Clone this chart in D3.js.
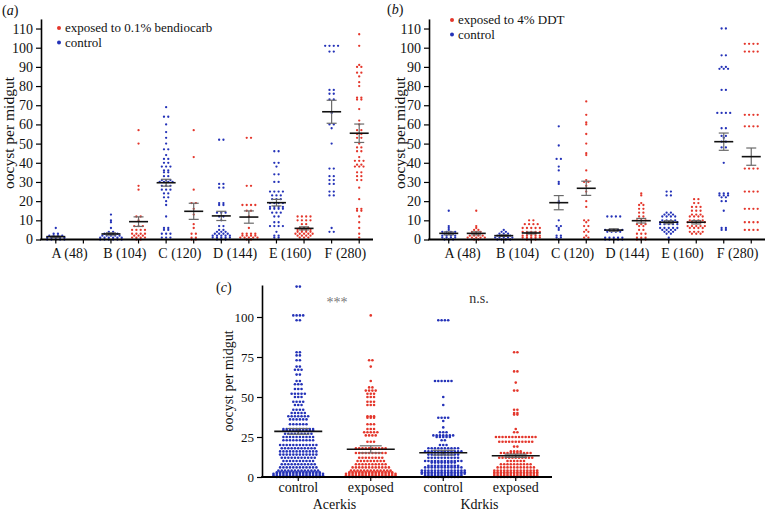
<!DOCTYPE html>
<html><head><meta charset="utf-8">
<script src="https://cdn.jsdelivr.net/npm/d3@7"></script>
<style>
body{margin:0;background:#fff;}
svg{display:block;font-family:"Liberation Serif","Times New Roman",serif;}
</style></head><body>
<svg id="chart" width="767" height="514"></svg>
<script>
// ---------------- DATA (rows of [oocyst value, number of midguts]) ----------------
const strainsAB = ["A (48)","B (104)","C (120)","D (144)","E (160)","F (280)"];
const yTicksAB = [0,10,20,30,40,50,60,70,80,90,100,110];

// panel (a): bendiocarb
const aControl = [
  [[6,1],[3,2],[2,4],[1,5],[0,5]],
  [[13,1],[10,1],[9,1],[6,1],[4,2],[3,4],[2,5],[1,6],[0,6]],
  [[69,1],[64,2],[60,1],[56,1],[53,1],[50,1],[47,2],[44,1],[42,2],[40,2],[38,3],[36,2],[35,2],[33,2],[31,3],[30,4],[28,3],[26,3],[24,2],[22,2],[20,1],[18,1],[12,1],[6,2],[5,2],[3,3],[1,3]],
  [[52,2],[29,2],[27,2],[19,2],[18,2],[14,3],[12,2],[10,1],[7,2],[5,2],[4,3],[3,4],[2,5],[1,5],[0,3]],
  [[46,2],[40,2],[38,1],[34,2],[30,2],[25,4],[23,3],[21,3],[19,4],[17,4],[16,4],[14,3],[12,2],[9,2],[7,4],[4,1],[2,2],[1,2]],
  [[101,4],[98,2],[78,2],[76,2],[73,2],[66,1],[60,2],[58,1],[50,1],[37,2],[33,2],[31,2],[29,2],[25,2],[23,2],[6,1],[4,2]]
];
const aExposed = [
  [],
  [[57,1],[50,1],[28,1],[26,1],[12,2],[10,1],[7,3],[5,4],[3,4],[2,3],[1,4],[0,2]],
  [[57,1],[43,1],[26,1],[19,2],[16,1],[13,1],[8,1],[6,1],[3,2],[1,2],[0,2]],
  [[53,2],[28,2],[18,4],[15,2],[12,1],[6,1],[3,4],[2,4],[1,5],[0,2]],
  [[12,4],[10,4],[8,2],[6,3],[5,4],[4,4],[3,5],[2,4],[1,3]],
  [[107,1],[101,1],[91,1],[90,2],[87,2],[85,1],[82,1],[80,1],[74,2],[73,2],[68,1],[62,1],[60,1],[57,2],[55,2],[53,2],[50,1],[48,2],[46,2],[43,1],[41,3],[39,2],[38,3],[35,2],[33,2],[31,2],[27,1],[21,1],[16,2],[15,2],[12,1],[9,1],[6,1],[3,1],[1,1]]
];
const aMeanControl = [1.5, 2.9, 29.6, 12.3, 19.2, 66.6];
const aSemControl  = [0.3, 0.6, 1.8, 2.4, 1.7, 6.0];
const aMeanExposed = [null, 9.3, 14.7, 11.7, 5.8, 55.4];
const aSemExposed  = [null, 2.5, 4.2, 3.2, 0.8, 4.8];

// panel (b): DDT
const bControl = [
  [[15,1],[7,1],[6,1],[5,1],[4,4],[3,3],[2,4],[1,4],[0,3]],
  [[5,1],[4,2],[3,3],[2,4],[1,5],[0,4]],
  [[59,1],[49,1],[42,2],[38,1],[36,1],[30,1],[29,1],[20,1],[19,1],[10,1],[7,2],[6,1],[5,1],[2,2],[1,2],[0,1]],
  [[12,4],[5,5],[4,4],[1,5],[0,5]],
  [[25,2],[23,2],[14,2],[13,3],[12,4],[10,4],[9,5],[8,5],[6,5],[5,4],[4,3],[3,2],[1,1],[0,1]],
  [[110,2],[96,2],[90,2],[89,3],[78,2],[66,4],[58,2],[54,2],[53,1],[51,2],[48,2],[40,1],[24,3],[23,3],[22,2],[20,2],[15,1],[6,2],[5,2]]
];
const bExposed = [
  [[15,1],[7,1],[6,1],[5,2],[4,3],[3,2],[2,4],[1,5],[0,2]],
  [[10,2],[8,4],[6,5],[4,5],[3,3],[2,5],[1,5],[0,3]],
  [[72,1],[65,1],[61,1],[60,1],[55,1],[50,1],[45,1],[44,1],[36,1],[31,1],[30,2],[28,1],[25,1],[20,1],[17,1],[10,2],[9,1],[7,2],[5,1],[4,2],[2,1],[1,2]],
  [[24,1],[23,1],[19,1],[18,2],[16,2],[14,2],[12,2],[10,3],[8,3],[7,2],[5,2],[3,3],[1,3],[0,3]],
  [[21,2],[19,2],[17,3],[15,3],[13,3],[12,4],[10,4],[9,5],[7,5],[6,4],[4,4],[3,3]],
  [[102,4],[98,4],[65,4],[59,4],[37,4],[25,4],[16,4],[9,4],[5,4]]
];
const bMeanControl = [3.2, 2.0, 19.2, 4.9, 9.0, 51.0];
const bSemControl  = [0.8, 0.4, 3.7, 0.7, 0.8, 4.5];
const bMeanExposed = [3.2, 3.4, 26.7, 9.8, 9.0, 43.2];
const bSemExposed  = [0.8, 0.5, 3.7, 1.2, 0.9, 4.5];

// panel (c): pooled by genotype
const genotypesC = ["Acerkis","Kdrkis"];
const yTicksC = [0,25,50,75,100];
const acerControl = [[119,2],[101,4],[98,2],[78,2],[76,2],[73,2],[69,2],[67,3],[64,2],[60,2],[58,3],[55,3],[52,5],[50,3],[47,4],[45,3],[42,4],[40,5],[38,7],[36,6],[33,6],[30,10],[29,10],[27,9],[25,10],[23,10],[20,12],[18,11],[16,12],[14,12],[12,11],[10,10],[8,11],[6,12],[4,13],[3,14],[2,16],[1,16],[0,14]];
const acerExposed = [[101,1],[73,2],[69,1],[60,1],[56,2],[54,4],[52,3],[50,3],[47,3],[45,3],[38,3],[37,3],[33,3],[30,3],[28,5],[26,4],[22,3],[18,10],[15,10],[12,8],[10,9],[8,10],[6,12],[4,13],[3,14],[2,16],[1,16],[0,14]];
const kdrControl = [[98,4],[60,6],[50,1],[45,1],[37,4],[35,1],[31,1],[28,3],[26,7],[25,5],[23,2],[20,3],[18,10],[16,12],[14,10],[12,10],[10,12],[9,8],[7,10],[6,12],[4,14],[3,14],[2,14],[1,12],[0,10]];
const kdrExposed = [[78,2],[66,2],[59,1],[54,2],[42,2],[40,2],[39,2],[30,1],[28,2],[25,13],[22,11],[19,2],[16,4],[15,10],[12,11],[10,6],[8,10],[6,12],[4,14],[3,14],[2,14],[1,14],[0,12]];
const cMean = [28.5, 17.3, 15.2, 13.3];
const cSem  = [1.8, 2.2, 1.5, 1.0];

// ---------------- DRAWING ----------------
const BLUE = "#2432b8", RED = "#e4362b";
const svg = d3.select("#chart");

function rowDots(rows, cx, y, spacing, maxPerRow, lift){
  const pts = [];
  rows.forEach(([v,n]) => {
    let rem = n, k = 0;
    while (rem > 0){
      const m = Math.min(rem, maxPerRow);
      for (let i = 0; i < m; i++) pts.push({x: cx + (i-(m-1)/2)*spacing, y: y(v) - k*lift});
      rem -= m; k++;
    }
  });
  return pts;
}

function panel(o){
  const g = svg.append("g");
  const y = d3.scaleLinear().domain([0, o.yMax]).range([o.y0, o.y0 - o.yMax*o.ppu]);
  const keys = [];
  o.cats.forEach(c => o.series.forEach(s => keys.push(c + "|" + s.name)));
  const x = d3.scaleBand().domain(keys).range(o.xRange);
  const bw = x.bandwidth();

  // dots, means, error bars
  o.cats.forEach((c, i) => {
    o.series.forEach(s => {
      const cx = x(c + "|" + s.name) + bw/2;
      const rows = s.rows[i];
      g.append("g").selectAll("circle")
        .data(rowDots(rows, cx, y, o.spacing, o.maxPerRow, o.lift))
        .join("circle")
        .attr("cx", d => d.x).attr("cy", d => d.y).attr("r", o.r)
        .attr("fill", s.color);
      const m = s.mean[i], e = s.sem[i];
      if (m != null){
        const eg = g.append("g").attr("stroke", "#6a6a6a").attr("stroke-width", 1.2);
        eg.append("line").attr("x1", cx).attr("x2", cx).attr("y1", y(m-e)).attr("y2", y(m+e));
        [m-e, m+e].forEach(v => eg.append("line")
          .attr("x1", cx - o.capW/2).attr("x2", cx + o.capW/2).attr("y1", y(v)).attr("y2", y(v)));
        g.append("line").attr("x1", cx - o.meanW/2).attr("x2", cx + o.meanW/2)
          .attr("y1", y(m)).attr("y2", y(m)).attr("stroke", "#111").attr("stroke-width", 1.6);
      }
    });
  });

  // y axis
  const ya = g.append("g").attr("transform", `translate(${o.axisX},0)`)
    .call(d3.axisLeft(y).tickValues(o.yTicks).tickSize(5).tickSizeOuter(0).tickPadding(3));
  ya.select(".domain").attr("stroke", "#000").attr("stroke-width", 1.6);
  ya.selectAll(".tick line").attr("stroke", "#000").attr("stroke-width", 1.2);
  ya.selectAll(".tick text").attr("font-size", o.tickFont).attr("fill", "#111")
    .attr("font-family", '"Liberation Serif","Times New Roman",serif');

  // x axis
  const xa = g.append("g").attr("transform", `translate(0,${o.y0})`)
    .call(d3.axisBottom(x).tickSize(4).tickFormat(""));
  xa.select(".domain").remove();
  xa.selectAll(".tick line").attr("stroke", "#000").attr("stroke-width", 1.2);
  g.append("line").attr("x1", o.axisX - 0.8).attr("x2", o.xEnd).attr("y1", o.y0).attr("y2", o.y0)
    .attr("stroke", "#000").attr("stroke-width", 2);

  // category labels
  o.cats.forEach(c => {
    const cxs = o.series.map(s => x(c + "|" + s.name) + bw/2);
    g.append("text").attr("x", d3.mean(cxs)).attr("y", o.catY)
      .attr("text-anchor", "middle").attr("font-size", 14).attr("fill", "#111").text(c);
  });
  if (o.slotLabels){
    keys.forEach(k => {
      g.append("text").attr("x", x(k) + bw/2).attr("y", o.slotY)
        .attr("text-anchor", "middle").attr("font-size", 14).attr("fill", "#111").text(k.split("|")[1]);
    });
  }

  // y title
  g.append("text").attr("transform", `translate(${o.titleX},${o.titleY}) rotate(-90)`)
    .attr("text-anchor", "middle").attr("font-size", o.titleFont).attr("fill", "#111")
    .text("oocyst per midgut");

  // panel letter
  const pl = g.append("text").attr("x", o.letterX).attr("y", o.letterY).attr("font-size", 14).attr("fill", "#111");
  pl.append("tspan").text("(");
  pl.append("tspan").attr("font-style", "italic").text(o.letter);
  pl.append("tspan").text(")");

  // legend
  if (o.legend){
    o.legend.forEach((l, i) => {
      const ly = o.legendY + i*o.legendGap;
      g.append("circle").attr("cx", o.legendX).attr("cy", ly - 4).attr("r", 2).attr("fill", l.color);
      g.append("text").attr("x", o.legendX + 6).attr("y", ly).attr("font-size", o.legendFont).attr("fill", "#111").text(l.text);
    });
  }
  return {g, x, y};
}

// (a)
panel({
  cats: strainsAB,
  series: [
    {name:"control", color:BLUE, rows:aControl, mean:aMeanControl, sem:aSemControl},
    {name:"exposed", color:RED, rows:aExposed, mean:aMeanExposed, sem:aSemExposed}
  ],
  yMax:115, y0:239.5, ppu:1.918, yTicks:yTicksAB, tickFont:14,
  xRange:[42,373], axisX:41, xEnd:373, catY:258,
  spacing:4.3, maxPerRow:8, lift:2, r:1.15, meanW:19, capW:10,
  titleX:14, titleY:133, titleFont:15.5,
  letter:"a", letterX:2, letterY:15,
  legend:[{color:RED, text:"exposed to 0.1% bendiocarb"},{color:BLUE, text:"control"}],
  legendX:59, legendY:32, legendGap:14.6, legendFont:13
});

// (b)
panel({
  cats: strainsAB,
  series: [
    {name:"control", color:BLUE, rows:bControl, mean:bMeanControl, sem:bSemControl},
    {name:"exposed", color:RED, rows:bExposed, mean:bMeanExposed, sem:bSemExposed}
  ],
  yMax:115, y0:239.5, ppu:1.918, yTicks:yTicksAB, tickFont:14,
  xRange:[435,765], axisX:429, xEnd:765, catY:258,
  spacing:4.3, maxPerRow:8, lift:2, r:1.15, meanW:19, capW:10,
  titleX:405, titleY:133, titleFont:15.5,
  letter:"b", letterX:387, letterY:14,
  legend:[{color:RED, text:"exposed to 4% DDT"},{color:BLUE, text:"control"}],
  legendX:452, legendY:24, legendGap:14.6, legendFont:13
});

// (c)
const pc = panel({
  cats: genotypesC,
  series: [
    {name:"control", color:BLUE, rows:[acerControl, kdrControl], mean:[cMean[0], cMean[2]], sem:[cSem[0], cSem[2]]},
    {name:"exposed", color:RED, rows:[acerExposed, kdrExposed], mean:[cMean[1], cMean[3]], sem:[cSem[1], cSem[3]]}
  ],
  yMax:120, y0:477, ppu:1.6, yTicks:yTicksC, tickFont:13,
  xRange:[262,552], axisX:262, xEnd:552, catY:509,
  slotLabels:true, slotY:492,
  spacing:3.3, maxPerRow:16, lift:1.6, r:1.3, meanW:48, capW:22,
  titleX:233, titleY:381, titleFont:14,
  letter:"c", letterX:216, letterY:292
});
svg.append("text").attr("x", 337).attr("y", 307).attr("text-anchor", "middle")
  .attr("font-size", 14).attr("fill", "#777").text("***");
svg.append("text").attr("x", 479).attr("y", 303).attr("text-anchor", "middle")
  .attr("font-size", 14).attr("fill", "#333").text("n.s.");
</script>
</body></html>
